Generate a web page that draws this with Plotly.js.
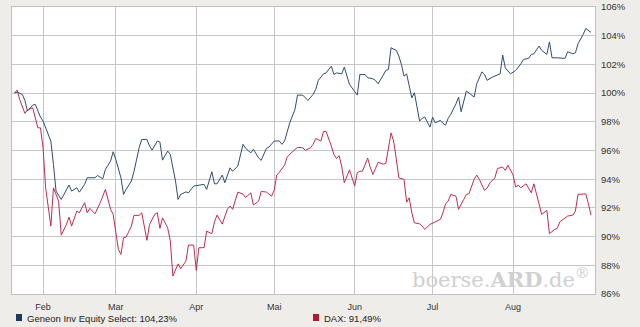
<!DOCTYPE html>
<html>
<head>
<meta charset="utf-8">
<script src="https://cdn.plot.ly/plotly-3.0.1.min.js"></script>
<style>
html,body{margin:0;padding:0;background:#eeede9;}
#chart{width:640px;height:327px;}
</style>
</head>
<body>
<div id="chart"></div>
<script>
// ---- data (percent of start value) ----
const seriesNames = ["Geneon Inv Equity Select", "DAX"];
const monthTicks = ["2009-02-01","2009-03-01","2009-04-01","2009-05-01","2009-06-01","2009-07-01","2009-08-01"];
const monthLabels = ["Feb","Mar","Apr","Mai","Jun","Jul","Aug"];
const yTicks = [86,88,90,92,94,96,98,100,102,104,106];

const geneonDates = ["2009-01-21","2009-01-22","2009-01-24","2009-01-25","2009-01-26","2009-01-28","2009-01-29","2009-01-30","2009-01-31",
"2009-02-01","2009-02-02","2009-02-04","2009-02-05","2009-02-06","2009-02-08","2009-02-09","2009-02-10","2009-02-11","2009-02-12","2009-02-14","2009-02-15","2009-02-17","2009-02-18","2009-02-21","2009-02-22","2009-02-24","2009-02-25","2009-02-27","2009-02-28",
"2009-03-01","2009-03-03","2009-03-04","2009-03-05","2009-03-07","2009-03-08","2009-03-10","2009-03-11","2009-03-13","2009-03-14","2009-03-15","2009-03-17","2009-03-18","2009-03-19","2009-03-21","2009-03-22","2009-03-24","2009-03-25","2009-03-26","2009-03-28","2009-03-29","2009-03-31",
"2009-04-02","2009-04-04","2009-04-05","2009-04-07","2009-04-08","2009-04-09","2009-04-11","2009-04-12","2009-04-14","2009-04-15","2009-04-17","2009-04-19","2009-04-20","2009-04-22","2009-04-23","2009-04-25","2009-04-26","2009-04-28","2009-04-29",
"2009-05-01","2009-05-03","2009-05-04","2009-05-05","2009-05-07","2009-05-09","2009-05-10","2009-05-12","2009-05-13","2009-05-14","2009-05-16","2009-05-17","2009-05-18","2009-05-20","2009-05-21","2009-05-23","2009-05-24","2009-05-25","2009-05-27","2009-05-28","2009-05-30","2009-05-31",
"2009-06-02","2009-06-03","2009-06-05","2009-06-06","2009-06-08","2009-06-09","2009-06-10","2009-06-12","2009-06-13","2009-06-14","2009-06-15","2009-06-17","2009-06-18","2009-06-19","2009-06-20","2009-06-21","2009-06-23","2009-06-24","2009-06-25","2009-06-26","2009-06-27","2009-06-28","2009-06-30",
"2009-07-01","2009-07-02","2009-07-04","2009-07-05","2009-07-06","2009-07-07","2009-07-08","2009-07-10","2009-07-11","2009-07-12","2009-07-14","2009-07-15","2009-07-17","2009-07-18","2009-07-20","2009-07-21","2009-07-22","2009-07-24","2009-07-25","2009-07-27","2009-07-28","2009-07-29","2009-07-31",
"2009-08-01","2009-08-02","2009-08-04","2009-08-05","2009-08-07","2009-08-08","2009-08-09","2009-08-11","2009-08-12","2009-08-14","2009-08-15","2009-08-16","2009-08-18","2009-08-21","2009-08-22","2009-08-24","2009-08-25","2009-08-26","2009-08-28","2009-08-29","2009-08-31"];
const geneonValues = [100.00,100.07,99.91,99.49,98.75,99.16,99.21,98.75,98.33,
98.05,97.58,96.66,95.03,93.17,92.59,92.94,93.29,93.59,93.17,93.40,93.10,93.64,94.10,94.10,94.26,94.03,94.68,95.26,95.91,
95.38,94.10,92.94,93.29,93.87,94.52,96.19,96.77,96.77,96.31,96.03,96.66,96.59,95.33,95.96,95.73,93.87,92.59,92.94,93.12,93.05,93.52,
93.59,93.64,93.29,94.52,93.68,93.68,94.29,93.75,94.79,94.56,94.91,96.43,96.15,95.84,96.08,95.49,95.31,96.15,96.24,
96.66,96.66,96.43,96.66,97.93,98.86,99.86,99.86,99.67,99.49,99.91,100.26,100.89,101.34,101.41,101.88,101.30,101.41,101.34,101.81,100.61,100.37,
99.86,101.30,101.30,101.07,101.00,100.89,100.65,101.25,101.58,101.65,103.16,102.98,102.58,102.00,101.18,101.34,99.67,100.02,99.09,98.05,98.24,98.33,97.63,
98.33,97.93,98.10,97.89,97.77,98.24,98.52,99.25,99.72,98.70,100.14,100.02,99.72,100.65,101.48,101.30,100.89,101.11,101.18,101.34,102.65,101.76,101.34,
101.48,101.58,102.04,102.35,102.42,102.70,102.74,103.28,102.98,102.70,103.57,102.46,102.46,102.42,102.88,102.74,102.81,103.44,104.09,104.51,104.23];

const daxDates = ["2009-01-21","2009-01-22","2009-01-23","2009-01-25","2009-01-26","2009-01-28","2009-01-30","2009-01-31",
"2009-02-01","2009-02-02","2009-02-04","2009-02-05","2009-02-07","2009-02-08","2009-02-10","2009-02-11","2009-02-12","2009-02-14","2009-02-15","2009-02-17","2009-02-18","2009-02-19","2009-02-21","2009-02-23","2009-02-25","2009-02-27","2009-02-28",
"2009-03-02","2009-03-03","2009-03-04","2009-03-05","2009-03-07","2009-03-08","2009-03-10","2009-03-11","2009-03-13","2009-03-14","2009-03-16","2009-03-17","2009-03-18","2009-03-19","2009-03-21","2009-03-22","2009-03-23","2009-03-25","2009-03-26","2009-03-28","2009-03-29","2009-03-31",
"2009-04-01","2009-04-02","2009-04-04","2009-04-05","2009-04-07","2009-04-08","2009-04-09","2009-04-11","2009-04-13","2009-04-14","2009-04-15","2009-04-17","2009-04-19","2009-04-20","2009-04-22","2009-04-23","2009-04-25","2009-04-26","2009-04-28","2009-04-30",
"2009-05-01","2009-05-02","2009-05-03","2009-05-05","2009-05-06","2009-05-08","2009-05-10","2009-05-12","2009-05-13","2009-05-15","2009-05-16","2009-05-17","2009-05-19","2009-05-20","2009-05-21","2009-05-23","2009-05-24","2009-05-25","2009-05-26","2009-05-27","2009-05-28","2009-05-30","2009-05-31",
"2009-06-01","2009-06-02","2009-06-03","2009-06-04","2009-06-06","2009-06-07","2009-06-08","2009-06-09","2009-06-10","2009-06-12","2009-06-13","2009-06-15","2009-06-16","2009-06-17","2009-06-18","2009-06-20","2009-06-21","2009-06-22","2009-06-23","2009-06-24","2009-06-26","2009-06-27","2009-06-28","2009-06-30",
"2009-07-02","2009-07-04","2009-07-05","2009-07-06","2009-07-07","2009-07-08","2009-07-10","2009-07-11","2009-07-13","2009-07-14","2009-07-15","2009-07-17","2009-07-18","2009-07-19","2009-07-21","2009-07-22","2009-07-23","2009-07-25","2009-07-26","2009-07-28","2009-07-29","2009-07-30",
"2009-08-01","2009-08-02","2009-08-03","2009-08-04","2009-08-06","2009-08-07","2009-08-08","2009-08-09","2009-08-11","2009-08-12","2009-08-14","2009-08-15","2009-08-17","2009-08-18","2009-08-19","2009-08-21","2009-08-22","2009-08-24","2009-08-25","2009-08-26","2009-08-28","2009-08-29","2009-08-30","2009-08-31"];
const daxValues = [100.00,100.21,99.56,98.59,98.82,98.98,97.58,97.58,
96.19,93.40,90.73,93.40,92.47,90.10,90.85,91.36,90.73,91.78,91.66,92.36,91.66,91.97,91.59,92.36,93.29,91.90,91.55,
89.11,88.76,89.92,89.97,90.73,91.48,91.48,91.66,89.74,90.85,91.55,91.66,90.57,91.31,90.61,89.69,87.25,88.10,87.76,88.29,89.41,89.41,
87.64,89.22,89.23,90.38,90.20,91.01,91.50,90.87,91.92,92.13,91.90,93.10,92.96,92.73,93.05,92.20,92.47,93.15,93.10,92.82,
93.24,94.29,94.49,94.98,95.54,95.91,96.22,96.19,96.01,96.19,96.43,96.84,96.66,97.33,97.33,96.31,95.73,95.44,95.64,94.91,93.75,94.65,94.08,
93.52,94.45,94.56,94.56,95.47,94.84,94.33,94.74,95.18,95.05,95.09,97.23,96.66,95.44,94.10,93.99,92.40,92.70,91.66,90.96,90.89,90.73,90.50,90.85,
91.03,91.20,91.66,92.29,92.47,92.94,92.82,91.90,92.59,92.94,92.98,93.99,94.29,93.99,93.22,93.38,93.73,94.10,94.75,94.84,94.61,94.98,
94.29,93.45,93.59,93.40,93.68,93.36,93.05,93.68,92.29,91.55,91.83,90.20,90.50,90.57,91.03,91.27,91.43,91.50,91.78,92.94,92.94,92.98,92.29,91.49];

// ---- layout helpers (pixel geometry of the plot area) ----
const W = 640, H = 327, L = 12, R = 45, T = 7, B = 33;
const pw = W - L - R, ph = H - T - B;
const px = x => (x - L) / pw;
const py = y => (H - B - y) / ph;
const fmt = v => v.toFixed(2).replace('.', ',') + '%';

const blue = '#2f4d70', red = '#c42c4b';
const blueBox = '#1d3a5c', redBox = '#b3192f';

const traces = [
  {x: geneonDates, y: geneonValues, type: 'scatter', mode: 'lines', name: seriesNames[0],
   line: {color: blue, width: 1}, hoverinfo: 'skip'},
  {x: daxDates, y: daxValues, type: 'scatter', mode: 'lines', name: seriesNames[1],
   line: {color: red, width: 1}, hoverinfo: 'skip'}
];

const font = {family: 'Liberation Sans, Arial, sans-serif', size: 9.5, color: '#333'};

const layout = {
  width: W, height: H,
  margin: {l: L, r: R, t: T, b: B, pad: 0},
  paper_bgcolor: '#eeede9',
  plot_bgcolor: '#ffffff',
  showlegend: false,
  font: font,
  xaxis: {
    type: 'date',
    range: ['2009-01-20 01:00', '2009-09-01 13:00'],
    tickvals: monthTicks, ticktext: monthLabels,
    showgrid: true, gridcolor: '#c6c6c6', gridwidth: 1,
    showline: true, linecolor: '#c0c0c0', linewidth: 1, mirror: true,
    ticks: 'outside', ticklen: 4, tickcolor: 'rgba(0,0,0,0)',
    zeroline: false, fixedrange: true,
    tickfont: {family: font.family, size: 9, color: '#333'}
  },
  yaxis: {
    side: 'right',
    range: [86, 106],
    tickvals: yTicks, ticktext: yTicks.map(v => v + '%'),
    showgrid: true, gridcolor: '#c6c6c6', gridwidth: 1,
    showline: true, linecolor: '#c0c0c0', linewidth: 1, mirror: true,
    ticks: '', zeroline: false, fixedrange: true,
    ticklabelstandoff: 3,
    tickfont: {family: font.family, size: 9.5, color: '#333'}
  },
  shapes: [
    {type: 'rect', xref: 'paper', yref: 'paper', x0: px(16), x1: px(22), y0: py(321), y1: py(314),
     fillcolor: blueBox, line: {width: 0}},
    {type: 'rect', xref: 'paper', yref: 'paper', x0: px(313), x1: px(319), y0: py(321), y1: py(314),
     fillcolor: redBox, line: {width: 0}}
  ],
  annotations: [
    {xref: 'paper', yref: 'paper', x: px(25), y: py(318), xanchor: 'left', yanchor: 'middle',
     text: seriesNames[0] + ': ' + fmt(geneonValues[geneonValues.length - 1]), showarrow: false,
     font: {family: font.family, size: 9.5, color: '#222'}},
    {xref: 'paper', yref: 'paper', x: px(322), y: py(318), xanchor: 'left', yanchor: 'middle',
     text: seriesNames[1] + ': ' + fmt(daxValues[daxValues.length - 1]), showarrow: false,
     font: {family: font.family, size: 9.5, color: '#222'}},
    {xref: 'paper', yref: 'paper', x: px(592), y: py(294), xanchor: 'right', yanchor: 'bottom',
     text: 'boerse.<b>ARD</b>.de<sup>®</sup>', showarrow: false,
     font: {family: 'DejaVu Serif, Liberation Serif, serif', size: 21, color: '#d0d0d0'}}
  ]
};

Plotly.newPlot('chart', traces, layout, {staticPlot: true, displayModeBar: false});
</script>
</body>
</html>
